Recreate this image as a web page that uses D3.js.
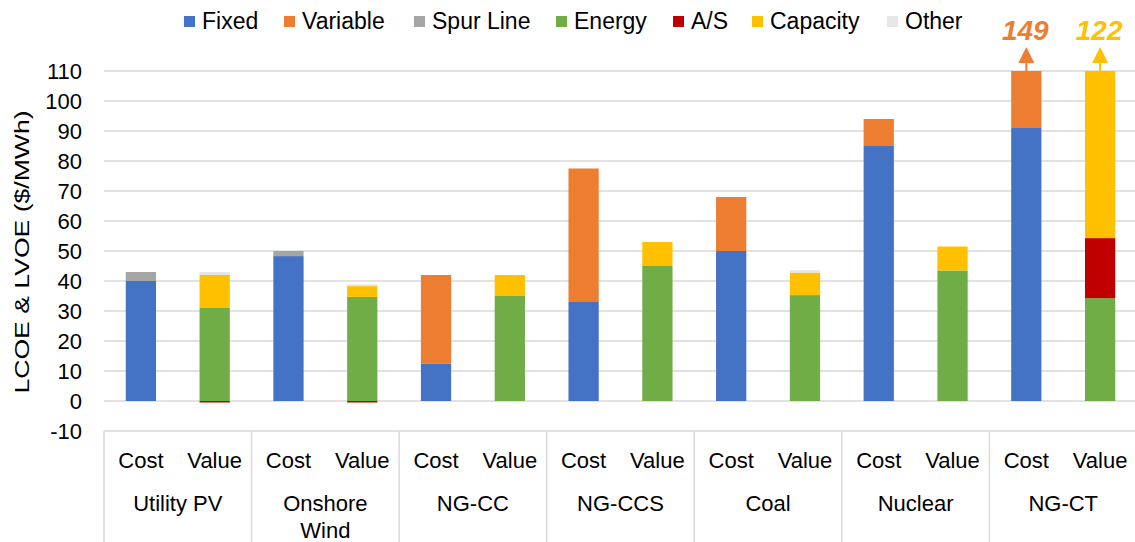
<!DOCTYPE html>
<html><head><meta charset="utf-8">
<script src="https://cdn.jsdelivr.net/npm/d3@7"></script>
<style>
html,body{margin:0;padding:0;background:#fff;}
text{font-family:"Liberation Sans",Arial,sans-serif;}
</style></head>
<body><svg id="chart" width="1135" height="542"></svg>
<script>
const groups = ["Utility PV","Onshore Wind","NG-CC","NG-CCS","Coal","Nuclear","NG-CT"];
const kinds = ["Cost","Value"];
const seriesNames = ["Fixed","Variable","Spur Line","Energy","A/S","Capacity","Other"];
const seriesColors = ["#4472C4","#ED7D31","#A5A5A5","#70AD47","#C00000","#FFC000","#E7E6E6"];
// values per bar, ordered group by group: [Cost, Value]
const fixedVals    = [40,0, 48.3,0, 12.5,0, 33,0, 50,0, 85,0, 91,0];
const variableVals = [0,0, 0,0, 29.5,0, 44.5,0, 18,0, 9,0, 58,0];
const spurVals     = [3,0, 1.7,0, 0,0, 0,0, 0,0, 0,0, 0,0];
const energyVals   = [0,31, 0,34.7, 0,35, 0,45, 0,35.3, 0,43.5, 0,34.3];
const asVals       = [0,-0.5, 0,-0.5, 0,0, 0,0, 0,0, 0,0, 0,20];
const capacityVals = [0,11, 0,3.6, 0,7, 0,8, 0,7.5, 0,8, 0,67.7];
const otherVals    = [0,1, 0,0.6, 0,0, 0,0, 0,0.8, 0,0, 0,0];
const yTicks = [-10,0,10,20,30,40,50,60,70,80,90,100,110];
const yTitle = "LCOE & LVOE ($/MWh)";

// layout (not data)
const legendX = [184,284,414,556,673,752,887];

const seriesVals = [fixedVals,variableVals,spurVals,energyVals,asVals,capacityVals,otherVals];
const rows = [];
groups.forEach((g,gi)=>kinds.forEach((k,ki)=>{
  const r = {group:g, kind:k};
  seriesNames.forEach((s,si)=>{ r[s] = seriesVals[si][gi*2+ki]; });
  rows.push(r);
}));

const svg = d3.select("#chart");
const pLeft = 104, pRight = 1137, pTop = 71, pBottom = 431;
const y = d3.scaleLinear().domain([-10,110]).range([pBottom, pTop]);
const xg = d3.scaleBand().domain(groups).range([pLeft,pRight]).padding(0);
const xk = d3.scaleBand().domain(kinds).range([0,xg.bandwidth()]).paddingInner(0.59).paddingOuter(0.295);
const color = d3.scaleOrdinal().domain(seriesNames).range(seriesColors);
const FONT = 22;

// gridlines
svg.append("g").selectAll("line").data(yTicks.filter(t=>t>-10)).join("line")
  .attr("x1",pLeft).attr("x2",pRight).attr("y1",d=>y(d)).attr("y2",d=>y(d))
  .attr("stroke","#D9D9D9").attr("stroke-width",1.5);

// y axis labels
const yAxis = d3.axisLeft(y).tickValues(yTicks).tickSize(0).tickPadding(0).tickFormat(d=>String(d));
const ya = svg.append("g").attr("transform",`translate(82,0)`).call(yAxis);
ya.select(".domain").remove();
ya.selectAll("text").attr("font-size",FONT).attr("fill","#000").attr("font-family","Liberation Sans, Arial, sans-serif");

// clip
svg.append("defs").append("clipPath").attr("id","plotclip").append("rect")
  .attr("x",pLeft).attr("y",y(110)).attr("width",pRight-pLeft).attr("height",pBottom-y(110));

const stack = d3.stack().keys(seriesNames).offset(d3.stackOffsetDiverging);
const stacked = stack(rows);
const barsG = svg.append("g").attr("clip-path","url(#plotclip)");
barsG.selectAll("g").data(stacked).join("g").attr("fill",d=>color(d.key))
  .selectAll("rect").data(d=>d.filter(p=>p[1]!==p[0])).join("rect")
  .attr("x",d=>xg(d.data.group)+xk(d.data.kind))
  .attr("width",xk.bandwidth())
  .attr("y",d=>y(Math.max(d[0],d[1])))
  .attr("height",d=>Math.abs(y(d[0])-y(d[1])));

// overflow arrows and labels
const ymax = y.domain()[1];
rows.forEach(r=>{
  const total = seriesNames.reduce((a,s)=>a+Math.max(0,r[s]),0);
  if (total > ymax) {
    let topSeries = seriesNames.filter(s=>r[s]>0).pop();
    const c = color(topSeries);
    const cx = xg(r.group)+xk(r.kind)+xk.bandwidth()/2;
    svg.append("line").attr("x1",cx).attr("x2",cx).attr("y1",y(ymax)).attr("y2",y(ymax)-9)
      .attr("stroke",c).attr("stroke-width",2);
    svg.append("path").attr("d",`M${cx-8},${y(ymax)-8} L${cx+8},${y(ymax)-8} L${cx},${y(ymax)-24} Z`).attr("fill",c);
    svg.append("text").attr("x",cx-1).attr("y",40).attr("text-anchor","middle")
      .attr("font-size",28).attr("font-weight","bold").attr("font-style","italic")
      .attr("fill",c).text(d3.format("d")(Math.round(total)));
  }
});

// category axis
const axG = svg.append("g");
axG.append("line").attr("x1",pLeft).attr("x2",pRight).attr("y1",pBottom).attr("y2",pBottom)
  .attr("stroke","#D9D9D9").attr("stroke-width",1.5);
const bounds = groups.map(g=>xg(g)).concat([pRight]);
axG.selectAll("line.sep").data(bounds).join("line").attr("class","sep")
  .attr("x1",d=>d).attr("x2",d=>d).attr("y1",pBottom).attr("y2",542)
  .attr("stroke","#D9D9D9").attr("stroke-width",1.5);
groups.forEach(g=>{
  kinds.forEach(k=>{
    axG.append("text").attr("x",xg(g)+xk(k)+xk.bandwidth()/2).attr("y",468)
      .attr("text-anchor","middle").attr("font-size",FONT).attr("fill","#000").text(k);
  });
  const words = g==="Onshore Wind" ? ["Onshore","Wind"] : [g];
  words.forEach((w,i)=>{
    axG.append("text").attr("x",xg(g)+xg.bandwidth()/2).attr("y",511+i*27)
      .attr("text-anchor","middle").attr("font-size",FONT).attr("fill","#000").text(w);
  });
});

// y title (stretched along its length as in the reference)
svg.append("text").attr("transform",`translate(29,252) rotate(-90) scale(1.33,1)`).attr("text-anchor","middle")
  .attr("font-size",20).attr("fill","#000").text(yTitle);

// legend
const leg = svg.append("g");
seriesNames.forEach((s,i)=>{
  const lx = legendX[i];
  leg.append("rect").attr("x",lx).attr("y",16).attr("width",11).attr("height",11).attr("fill",color(s));
  leg.append("text").attr("x",lx+18).attr("y",29).attr("font-size",23).attr("fill","#000").text(s);
});
</script></body></html>
